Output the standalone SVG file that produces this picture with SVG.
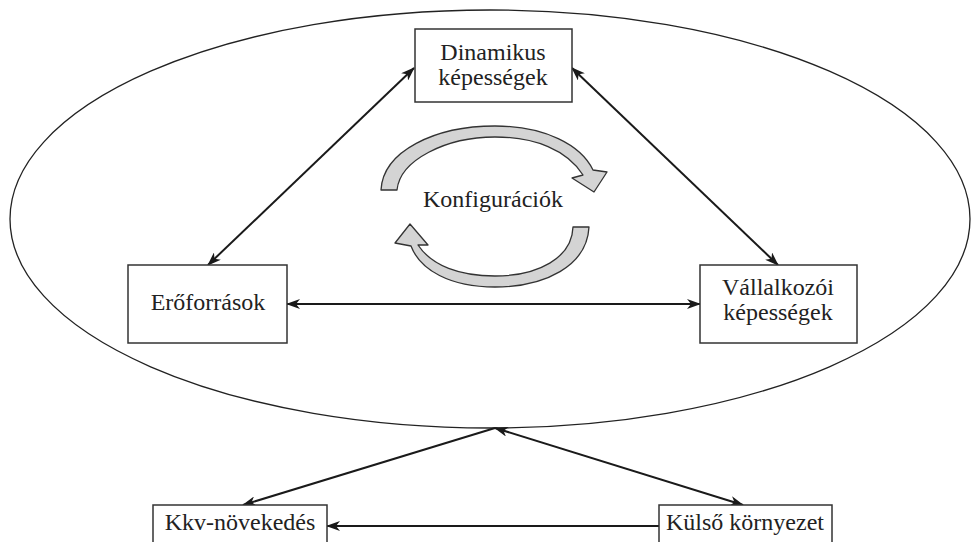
<svg xmlns="http://www.w3.org/2000/svg" width="971" height="542" viewBox="0 0 971 542">
<defs>
<style>
.box{fill:#fff;stroke:#333;stroke-width:1.5}
.lbl{font-family:"Liberation Serif","Times New Roman",serif;font-size:24px;fill:#222;text-anchor:middle}
.con{stroke:#1a1a1a;stroke-width:2;fill:none}
.cyc{fill:#d4d4d4;stroke:#333;stroke-width:1.3;stroke-linejoin:round}
</style>
<marker id="ah" viewBox="0 0 14 10" refX="13" refY="5" markerWidth="14" markerHeight="10" markerUnits="userSpaceOnUse" orient="auto-start-reverse">
<path d="M0,0 L14,5 L0,10 L4,5 Z" fill="#1a1a1a"/>
</marker>
</defs>
<rect width="971" height="542" fill="#fff"/>
<ellipse cx="490" cy="219" rx="480" ry="209" fill="none" stroke="#222" stroke-width="1.3"/>
<g id="connectors">
<line class="con" x1="414" y1="68" x2="208" y2="265" marker-start="url(#ah)" marker-end="url(#ah)"/>
<line class="con" x1="572" y1="68" x2="778" y2="265" marker-start="url(#ah)" marker-end="url(#ah)"/>
<line class="con" x1="287" y1="304" x2="700" y2="304" marker-start="url(#ah)" marker-end="url(#ah)"/>
<line class="con" x1="495" y1="428" x2="243" y2="505" marker-end="url(#ah)"/>
<line class="con" x1="495" y1="428" x2="743" y2="505" marker-start="url(#ah)" marker-end="url(#ah)"/>
<line class="con" x1="659" y1="526" x2="327" y2="526" marker-end="url(#ah)"/>
</g>
<g id="cycle">
<path class="cyc" d="M381,190 C383,151 435,126 495,126 C545,126 581,145 593,170 L607,172 L594,192 L572,178 L583,175 C567,150 535,137 495,137 C446,137 400,160 397,190 Z"/>
<path class="cyc" d="M589,227 C587,266 545,287 495,287 C450,287 420,270 411,246 L395,243 L410,224 L428,245 L418,245 C432,266 460,276 495,276 C538,276 572,258 573,227 Z"/>
<text class="lbl" x="493" y="207">Konfigurációk</text>
</g>
<g id="dinamikus">
<rect class="box" x="415" y="29" width="157" height="73"/>
<text class="lbl" x="493" y="60">Dinamikus</text>
<text class="lbl" x="493" y="85">képességek</text>
</g>
<g id="eroforrasok">
<rect class="box" x="128" y="265" width="159" height="78"/>
<text class="lbl" x="208" y="310">Erőforrások</text>
</g>
<g id="vallalkozoi">
<rect class="box" x="700" y="265" width="157" height="78"/>
<text class="lbl" x="778" y="295">Vállalkozói</text>
<text class="lbl" x="778" y="320">képességek</text>
</g>
<g id="kkv">
<rect class="box" x="153" y="505" width="174" height="45"/>
<text class="lbl" x="240" y="530">Kkv-növekedés</text>
</g>
<g id="kulso">
<rect class="box" x="659" y="505" width="173" height="45"/>
<text class="lbl" x="745" y="530">Külső környezet</text>
</g>
</svg>
